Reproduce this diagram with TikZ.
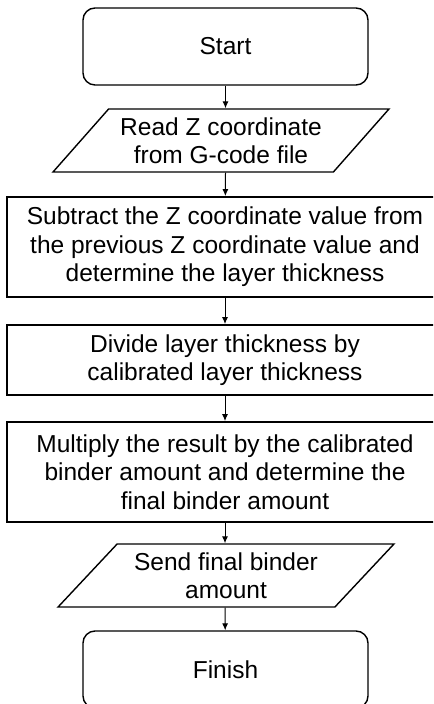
\documentclass[tikz,border=0pt]{standalone}
\usepackage{fontspec}
\setmainfont{Liberation Sans}
\usepackage{tikz}
\usetikzlibrary{arrows.meta,positioning,shapes.geometric}

\begin{document}
\begin{tikzpicture}[x=0.5pt,y=-0.5pt,
    every node/.style={font=\fontsize{12.25pt}{14.25pt}\selectfont, align=center, inner sep=0pt},
    term/.style={draw, line width=0.7pt, rounded corners=6pt, minimum width=142.5pt, minimum height=38.5pt},
    process/.style={draw, line width=0.9pt, minimum width=218pt},
    io/.style={draw, line width=0.7pt, trapezium, trapezium left angle=43, trapezium right angle=137,
      trapezium stretches=true, minimum width=168pt, minimum height=31.5pt},
    link/.style={line width=0.5pt, -{Latex[length=3.5pt,width=3pt]}}]
    \clip (0,0) rectangle (433,704);
    \node[term] (start) at (225.5,46.5) {Start};
    \node[io] (read) at (221,140.5) {Read Z coordinate\\from G-code file};
    \node[process, minimum height=50pt] (subtract) at (225,247) {Subtract the Z coordinate value from\\the previous Z coordinate value and\\determine the layer thickness};
    \node[process, minimum height=35pt] (divide) at (225,360) {Divide layer thickness by\\calibrated layer thickness};
    \node[process, minimum height=50pt] (multiply) at (225,472) {Multiply the result by the calibrated\\binder amount and determine the\\final binder amount};
    \node[io] (send) at (226,575.5) {Send final binder\\amount};
    \node[term] (finish) at (225.5,669.5) {Finish};
    \draw[link] (start) -- (start |- read.north);
    \draw[link] (read.south -| start) -- (subtract);
    \draw[link] (subtract) -- (divide);
    \draw[link] (divide) -- (multiply);
    \draw[link] (multiply) -- (multiply |- send.north);
    \draw[link] (send.south -| multiply) -- (finish);
  \end{tikzpicture}
\end{document}
